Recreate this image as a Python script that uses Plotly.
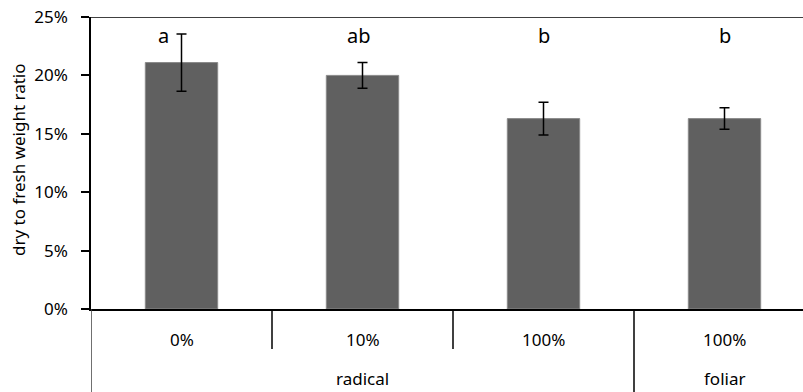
import plotly.graph_objects as go

categories = ["0%", "10%", "100%", "100%"]
groups = ["radical", "radical", "radical", "foliar"]
values = [0.211, 0.200, 0.163, 0.163]
errors = [0.0245, 0.011, 0.014, 0.0092]
letters = ["a", "ab", "b", "b"]
y_ticks = [0, 0.05, 0.10, 0.15, 0.20, 0.25]

FONT = "Noto Sans"
W, H = 803, 392
L, T, B = 91, 17, 83
plot_h = H - T - B

idx = list(range(len(categories)))

fig = go.Figure()
fig.add_trace(go.Bar(
    x=idx, y=values, width=0.4,
    marker=dict(color="#606060", line=dict(color="#8a8a8a", width=1)),
    error_y=dict(type="data", array=errors, visible=True, color="black", thickness=1.5, width=5),
    showlegend=False,
))

def py(px):
    return (H - B - px) / plot_h

ann = []
letter_dx = [-0.1, -0.02, 0, 0]
for i, (t, dx) in enumerate(zip(letters, letter_dx)):
    ann.append(dict(x=i + dx, y=0.221, xref="x", yref="y", text=t, showarrow=False,
                    yanchor="bottom", font=dict(family=FONT, size=20, color="black")))
for i, c in enumerate(categories):
    ann.append(dict(x=i, y=py(339), xref="x", yref="paper", text=c, showarrow=False,
                    yanchor="middle", font=dict(family=FONT, size=17, color="black")))
seen = []
for g in groups:
    if g not in seen:
        seen.append(g)
for g in seen:
    members = [i for i, gg in enumerate(groups) if gg == g]
    cx = (members[0] + members[-1]) / 2
    ann.append(dict(x=cx, y=py(378), xref="x", yref="paper", text=g, showarrow=False,
                    yanchor="middle", font=dict(family=FONT, size=17, color="black")))
ann.append(dict(x=(18 - L) / (W - L), y=py(160), xref="paper", yref="paper",
                text="dry to fresh weight ratio", textangle=-90, showarrow=False,
                xanchor="center", yanchor="middle", font=dict(family=FONT, size=17, color="black")))

shapes = []
shapes.append(dict(type="line", xref="x", yref="paper", x0=-0.5, x1=-0.5, y0=0, y1=py(392),
                   line=dict(color="#404040", width=1.5)))
for i in range(len(categories) - 1):
    boundary = groups[i] != groups[i + 1]
    shapes.append(dict(type="line", xref="x", yref="paper", x0=i + 0.5, x1=i + 0.5, y0=0,
                       y1=py(392) if boundary else py(349),
                       line=dict(color="black", width=1.5)))
shapes.append(dict(type="line", xref="paper", yref="y", x0=0, x1=1, y0=0.25, y1=0.25,
                   line=dict(color="black", width=1.5)))

fig.update_layout(
    width=W, height=H,
    margin=dict(l=L, r=0, t=T, b=B, pad=0),
    plot_bgcolor="white", paper_bgcolor="white",
    font=dict(family=FONT, size=17, color="black"),
    bargap=0.6,
    annotations=ann, shapes=shapes,
    xaxis=dict(range=[-0.5, -0.5 + (W - L) / 181.0], showticklabels=False, ticks="",
               showgrid=False, zeroline=False, showline=True, linecolor="black", linewidth=1.5,
               mirror=False, fixedrange=True),
    yaxis=dict(range=[0, 0.25], tickvals=y_ticks, tickformat=".0%", ticks="outside",
               ticklen=8, tickcolor="black", tickwidth=1.5, showgrid=False, zeroline=False,
               showline=True, linecolor="black", linewidth=1.5, ticklabelstandoff=10,
               tickfont=dict(family=FONT, size=17, color="black")),
)

fig.write_html("out.html")
